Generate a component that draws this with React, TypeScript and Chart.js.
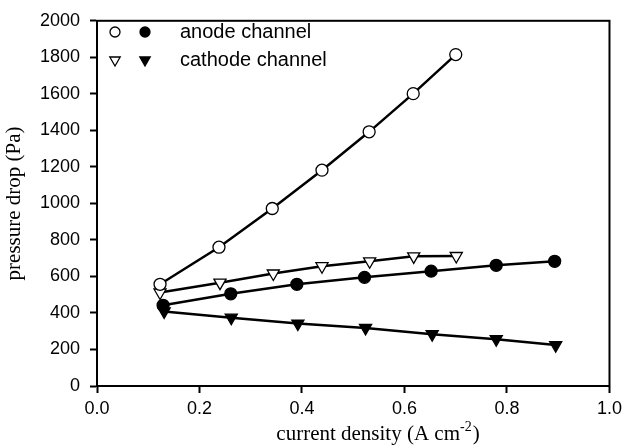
import React, { useEffect, useRef } from "react";
import { Chart, registerables } from "chart.js";

Chart.register(...registerables);

const anodeOpenX = [0.123, 0.238, 0.342, 0.439, 0.531, 0.617, 0.700];
const anodeOpenY = [557, 760, 972, 1182, 1392, 1601, 1815];
const anodeFilledX = [0.129, 0.261, 0.390, 0.522, 0.652, 0.779, 0.893];
const anodeFilledY = [442, 505, 557, 595, 629, 661, 683];
const cathodeOpenX = [0.123, 0.240, 0.344, 0.439, 0.532, 0.618, 0.701];
const cathodeOpenY = [512, 566, 616, 656, 683, 710, 712];
const cathodeFilledX = [0.131, 0.262, 0.392, 0.524, 0.654, 0.779, 0.895];
const cathodeFilledY = [408, 374, 342, 318, 284, 256, 224];

const xTicks = [0, 0.2, 0.4, 0.6, 0.8, 1.0];
const yTicks = [0, 200, 400, 600, 800, 1000, 1200, 1400, 1600, 1800, 2000];
const legendLabels = ["anode channel", "cathode channel"];
const xTitleMain = "current density (A cm";
const xTitleSup = "-2";
const xTitleEnd = ")";
const yTitle = "pressure drop (Pa)";

const SANS = "'Liberation Sans', Arial, sans-serif";
const SERIF = "'Liberation Serif', 'Times New Roman', serif";

function pts(xs: number[], ys: number[]) {
  return xs.map((x, i) => ({ x, y: ys[i] }));
}

const framePlugin = {
  id: "frame",
  afterDraw(chart: any) {
    const { ctx, chartArea } = chart;
    const { left, right, top, bottom } = chartArea;
    ctx.save();
    ctx.strokeStyle = "#000";
    ctx.lineWidth = 2;
    ctx.strokeRect(left, top, right - left, bottom - top);

    // x title with superscript
    ctx.fillStyle = "#000";
    ctx.textBaseline = "alphabetic";
    const mainFont = `21px ${SERIF}`;
    const supFont = `14px ${SERIF}`;
    ctx.font = mainFont;
    const w1 = ctx.measureText(xTitleMain).width;
    const w3 = ctx.measureText(xTitleEnd).width;
    ctx.font = supFont;
    const w2 = ctx.measureText(xTitleSup).width;
    const total = w1 + w2 + w3 + 1;
    const cx = 378;
    const baseY = 440;
    const x0 = cx - total / 2;
    ctx.textAlign = "left";
    ctx.font = mainFont;
    ctx.fillText(xTitleMain, x0, baseY);
    ctx.font = supFont;
    ctx.fillText(xTitleSup, x0 + w1, baseY - 9);
    ctx.font = mainFont;
    ctx.fillText(xTitleEnd, x0 + w1 + w2 + 1, baseY);

    // legend
    const rows = [
      { y: 32, label: legendLabels[0], style: "circle" },
      { y: 60, label: legendLabels[1], style: "triangle" },
    ];
    ctx.lineWidth = 1.3;
    for (const r of rows) {
      for (const [sx, filled] of [[115, false], [145, true]] as [number, boolean][]) {
        ctx.beginPath();
        if (r.style === "circle") {
          ctx.arc(sx, r.y, 5, 0, Math.PI * 2);
        } else {
          const rad = 6;
          ctx.moveTo(sx - rad * 0.866, r.y - rad * 0.5);
          ctx.lineTo(sx + rad * 0.866, r.y - rad * 0.5);
          ctx.lineTo(sx, r.y + rad);
          ctx.closePath();
        }
        ctx.fillStyle = filled ? "#000" : "#fff";
        ctx.fill();
        ctx.strokeStyle = "#000";
        ctx.stroke();
      }
      ctx.fillStyle = "#000";
      ctx.font = `20px ${SANS}`;
      ctx.textAlign = "left";
      ctx.textBaseline = "middle";
      ctx.fillText(r.label, 180, r.y);
    }
    ctx.restore();
  },
};

export default function App() {
  const ref = useRef<HTMLCanvasElement | null>(null);
  useEffect(() => {
    if (!ref.current) return;
    const lineCommon = {
      borderColor: "#000",
      borderWidth: 2.5,
      pointBorderColor: "#000",
      pointBorderWidth: 1.3,
      tension: 0,
      showLine: true,
    };
    const chart = new Chart(ref.current, {
      type: "scatter",
      data: {
        datasets: [
          {
            ...lineCommon,
            label: "anode open",
            data: pts(anodeOpenX, anodeOpenY),
            pointStyle: "circle",
            pointRadius: 6,
            pointBackgroundColor: "#fff",
          },
          {
            ...lineCommon,
            label: "cathode open",
            data: pts(cathodeOpenX, cathodeOpenY),
            pointStyle: "triangle",
            rotation: 180,
            pointRadius: 7,
            pointBackgroundColor: "#fff",
          },
          {
            ...lineCommon,
            label: "anode filled",
            data: pts(anodeFilledX, anodeFilledY),
            pointStyle: "circle",
            pointRadius: 6,
            pointBackgroundColor: "#000",
          },
          {
            ...lineCommon,
            label: "cathode filled",
            data: pts(cathodeFilledX, cathodeFilledY),
            pointStyle: "triangle",
            rotation: 180,
            pointRadius: 7,
            pointBackgroundColor: "#000",
          },
        ],
      } as any,
      options: {
        responsive: false,
        animation: false,
        layout: { padding: { top: 15, right: 17, left: 0, bottom: 0 } },
        plugins: {
          legend: { display: false },
          tooltip: { enabled: false },
        },
        scales: {
          x: {
            type: "linear",
            min: 0,
            max: 1,
            afterBuildTicks: (scale: any) => {
              scale.ticks = xTicks.map((v) => ({ value: v }));
            },
            afterFit: (scale: any) => {
              scale.height = 62;
            },
            grid: {
              drawOnChartArea: false,
              drawTicks: true,
              tickLength: 7,
              tickWidth: 2,
              tickColor: "#000",
            },
            border: { display: true, color: "#000", width: 2 },
            ticks: {
              color: "#000",
              padding: 5,
              font: { family: SANS, size: 18 },
              maxRotation: 0,
              callback: (v: any) => Number(v).toFixed(1),
            },
          },
          y: {
            type: "linear",
            min: 0,
            max: 2000,
            afterBuildTicks: (scale: any) => {
              scale.ticks = yTicks.map((v) => ({ value: v }));
            },
            afterFit: (scale: any) => {
              scale.width = 97;
            },
            grid: {
              drawOnChartArea: false,
              drawTicks: true,
              tickLength: 7,
              tickWidth: 2,
              tickColor: "#000",
            },
            border: { display: true, color: "#000", width: 2 },
            ticks: {
              color: "#000",
              padding: 10,
              font: { family: SANS, size: 18 },
              callback: (v: any) => String(v),
            },
            title: {
              display: true,
              text: yTitle,
              color: "#000",
              font: { family: SERIF, size: 21, weight: "normal" },
              padding: { top: 2, bottom: 0 },
            },
          },
        },
      } as any,
      plugins: [framePlugin],
    });
    return () => chart.destroy();
  }, []);
  return (
    <div style={{ position: "fixed", left: 0, top: 0, width: 627, height: 448, background: "#fff" }}>
      <canvas ref={ref} width={627} height={448} />
    </div>
  );
}
